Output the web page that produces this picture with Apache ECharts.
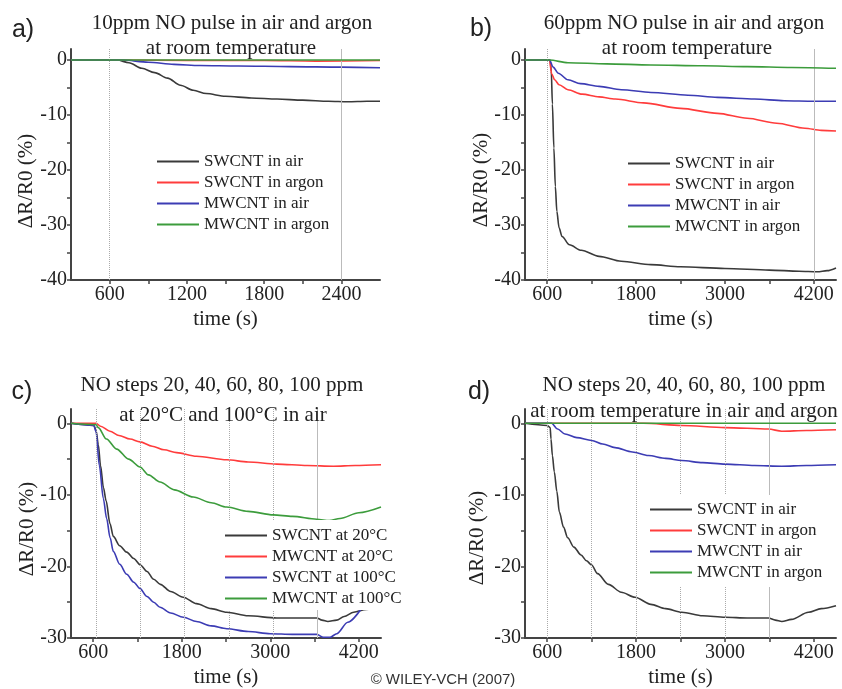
<!DOCTYPE html>
<html>
<head>
<meta charset="utf-8">
<script src="https://cdn.jsdelivr.net/npm/echarts@6/dist/echarts.min.js"></script>
<style>
html,body{margin:0;padding:0;background:#fff;}
#chart{width:842px;height:689px;}
</style>
</head>
<body>
<div id="chart"></div>
<script>
// ---------- DATA ----------
// Panel a: 10ppm NO pulse (time s, dR/R0 %)
const aSwAir = [[300,0],[660,0],[750,-0.5],[850,-1.5],[950,-2.3],[1050,-3.3],[1150,-4.6],[1250,-5.5],[1350,-6.1],[1500,-6.6],[1700,-6.9],[1900,-7.1],[2100,-7.3],[2300,-7.5],[2450,-7.6],[2600,-7.5],[2700,-7.5]];
const aSwArgon = [[300,0],[700,0],[1200,-0.1],[1800,-0.1],[2200,-0.2],[2700,-0.1]];
const aMwAir = [[300,0],[700,0],[900,-0.4],[1100,-0.8],[1300,-1.0],[1600,-1.1],[2000,-1.2],[2400,-1.3],[2700,-1.4]];
const aMwArgon = [[300,0],[1000,0],[2000,0],[2700,0]];
// Panel b: 60ppm NO pulse
const bSwAir = [[300,0],[640,0],[655,-2],[670,-8],[690,-16],[710,-23],[730,-27.5],[760,-30.5],[800,-32.1],[900,-33.6],[1060,-34.6],[1300,-35.7],[1600,-36.6],[2000,-37.2],[2400,-37.6],[3000,-37.9],[3600,-38.2],[4000,-38.4],[4250,-38.5],[4380,-38.3],[4500,-37.8]];
const bSwArgon = [[300,0],[630,0],[660,-2.5],[700,-3.6],[760,-4.5],[880,-5.4],[1070,-6.2],[1300,-6.7],[1520,-7.1],[1900,-7.8],[2400,-8.8],[2900,-9.7],[3300,-10.6],[3700,-11.5],[4080,-12.4],[4300,-12.8],[4500,-12.9]];
const bMwAir = [[300,0],[630,0],[680,-1.3],[750,-2.4],[880,-3.6],[1050,-4.3],[1300,-4.8],[1600,-5.4],[2000,-5.9],[2500,-6.4],[2900,-6.8],[3400,-7.1],[3800,-7.4],[4200,-7.5],[4500,-7.5]];
const bMwArgon = [[300,0],[630,0],[880,-0.5],[1400,-0.7],[2000,-0.9],[2700,-1.05],[3300,-1.2],[3900,-1.35],[4500,-1.5]];
// Panel c: NO steps at 20C and 100C in air
const cSw20 = [[300,0],[610,-0.3],[640,-1],[670,-3],[700,-5.9],[740,-9],[775,-10.8],[828,-14],[873,-15.8],[960,-17.1],[1055,-18],[1150,-18.9],[1240,-19.8],[1330,-20.7],[1420,-21.8],[1510,-22.5],[1650,-23.5],[1820,-24.3],[2000,-25.2],[2200,-25.9],[2410,-26.4],[2700,-26.9],[3087,-27.2],[3400,-27.2],[3630,-27.2],[3700,-27.5],[3780,-27.7],[3900,-27.5],[4000,-27],[4130,-26.4],[4300,-26],[4500,-25.6]];
const cMw20 = [[300,0],[640,0],[700,-0.4],[828,-1.1],[950,-1.7],[1100,-2.2],[1235,-2.6],[1400,-3.2],[1560,-3.7],[1732,-4.1],[2000,-4.6],[2410,-5.1],[2700,-5.4],[3087,-5.7],[3500,-5.9],[3855,-6.0],[4150,-5.9],[4500,-5.8]];
const cSw100 = [[300,0],[610,-0.3],[640,-1.2],[684,-5.9],[738,-10.5],[783,-13.3],[830,-16],[873,-17.9],[960,-19.7],[1055,-21.1],[1150,-22.2],[1235,-23.1],[1330,-24.2],[1420,-25],[1506,-25.7],[1650,-26.5],[1822,-27.1],[2000,-27.7],[2200,-28.3],[2410,-28.7],[2700,-29.1],[3000,-29.4],[3300,-29.5],[3630,-29.5],[3720,-29.9],[3810,-29.9],[3900,-29.4],[4050,-27.8],[4260,-25.5]];
const cMw100 = [[300,0],[640,-0.2],[670,-0.6],[780,-2.2],[919,-3.6],[1080,-5.0],[1235,-6.1],[1350,-7.2],[1506,-8.2],[1700,-9.3],[1957,-10.3],[2200,-11.1],[2410,-11.7],[2700,-12.3],[3041,-12.8],[3300,-13.0],[3629,-13.4],[3800,-13.6],[3945,-13.3],[4200,-12.5],[4500,-11.7]];
// Panel d: NO steps at room temperature in air and argon
const dSwAir = [[300,0],[600,-0.3],[640,-0.6],[651,-2.2],[670,-4.5],[696,-6.8],[730,-9.5],[764,-12.4],[820,-14.5],[877,-16],[960,-17.3],[1057,-18.4],[1130,-19.2],[1200,-19.8],[1280,-21],[1426,-22.5],[1600,-23.6],[1786,-24.3],[2000,-25.3],[2200,-25.9],[2417,-26.4],[2700,-26.9],[3003,-27.1],[3300,-27.2],[3588,-27.2],[3680,-27.5],[3768,-27.7],[3900,-27.4],[4128,-26.4],[4300,-25.9],[4500,-25.5]];
const dSwArgon = [[300,0],[1900,0],[2417,-0.3],[3003,-0.6],[3588,-0.8],[3768,-1.1],[4100,-1.0],[4500,-0.9]];
const dMwAir = [[300,0],[660,0],[740,-0.8],[840,-1.5],[1000,-2.0],[1201,-2.4],[1350,-2.9],[1516,-3.4],[1750,-4.0],[1966,-4.5],[2200,-4.9],[2417,-5.2],[2700,-5.5],[3003,-5.7],[3400,-5.9],[3768,-6.0],[4100,-5.9],[4500,-5.8]];
const dMwArgon = [[300,0],[1500,0],[3000,0],[4500,0]];

// Names, ticks, marker lines
const namesAB = ['SWCNT in air','SWCNT in argon','MWCNT in air','MWCNT in argon'];
const namesC = ['SWCNT at 20°C','MWCNT at 20°C','SWCNT at 100°C','MWCNT at 100°C'];
const xLabelsA = [600,1200,1800,2400];
const xTicksA = [600,900,1200,1500,1800,2100,2400];
const xLabelsB = [600,1800,3000,4200];
const xTicksB = [600,1200,1800,2400,3000,3600,4200];
const yLabels40 = [0,-10,-20,-30,-40];
const yTicks40 = [0,-5,-10,-15,-20,-25,-30,-35,-40];
const yLabels30 = [0,-10,-20,-30];
const yTicks30 = [0,-5,-10,-15,-20,-25,-30];
const dottedA = [600], solidA = [2400];
const dottedB = [600], solidB = [4200];
const dottedC = [640,1240,1840,2440,3040], solidC = [3640];
const dottedD = [600,1200,1800,2400,3000], solidD = [3600];
const titles = [
  ['10ppm NO pulse in air and argon','at room temperature'],
  ['60ppm NO pulse in air and argon','at room temperature'],
  ['NO steps 20, 40, 60, 80, 100 ppm','at 20°C and 100°C in air'],
  ['NO steps 20, 40, 60, 80, 100 ppm','at room temperature in air and argon']
];

// ---------- STYLE ----------
const COLORS = ['#3a3a3a','#ff3c3c','#3c3cb4','#3c9c3c'];
const SERIF = '"Liberation Serif", "Times New Roman", serif';
const SANS = '"Liberation Sans", Arial, sans-serif';
const grids = [
  {left:71, top:49, width:309, height:231},
  {left:525, top:49, width:311, height:231},
  {left:71, top:409, width:310, height:232},
  {left:525, top:409, width:311, height:232}
];
const panelX = [[300,2700,xLabelsA,xTicksA],[300,4500,xLabelsB,xTicksB],[300,4500,xLabelsB,xTicksB],[300,4500,xLabelsB,xTicksB]];
const panelY = [[-40,2,yLabels40,yTicks40],[-40,2,yLabels40,yTicks40],[-30,2,yLabels30,yTicks30],[-30,2,yLabels30,yTicks30]];
const panelData = [
  [aSwAir,aSwArgon,aMwAir,aMwArgon],
  [bSwAir,bSwArgon,bMwAir,bMwArgon],
  [cSw20,cMw20,cSw100,cMw100],
  [dSwAir,dSwArgon,dMwAir,dMwArgon]
];
const panelNames = [namesAB,namesAB,namesC,namesAB];
const panelLines = [[dottedA,solidA],[dottedB,solidB],[dottedC,solidC],[dottedD,solidD]];
const legendPos = [
  {left:153,top:147,padding:[4,4,4,4]},
  {left:624,top:149,padding:[4,4,4,4]},
  {left:221,top:520,padding:[5,4,1,4]},
  {left:646,top:495,padding:[4,4,4,4]}
];
const titlePos = [[[232,23],[231,48]],[[684,23],[687,48]],[[222,385],[223,415]],[[684,385],[684,411]]];
const letterPos = [['a)',23,30],['b)',481,29],['c)',22,392],['d)',479,392]];
const yNamePos = [[26,181],[481,180],[27,529],[477,538]];

const axisLineStyle = {color:'#444', width:2};
const xAxes = [], yAxes = [], series = [], legends = [], graphics = [];
for (let p = 0; p < 4; p++) {
  const [xmin,xmax,xl,xt] = panelX[p];
  const [ymin,ymax,yl,yt] = panelY[p];
  xAxes.push({
    type:'value', gridIndex:p, min:xmin, max:xmax,
    name:'time (s)', nameLocation:'middle', nameGap:29,
    nameTextStyle:{fontFamily:SERIF, fontSize:21, color:'#222'},
    axisLine:{show:true, onZero:false, lineStyle:axisLineStyle},
    axisTick:{show:true, length:4, customValues:xt, lineStyle:{color:'#444', width:1.5}},
    axisLabel:{customValues:xl, formatter:v => String(v), fontFamily:SERIF, fontSize:20, color:'#222', margin:5},
    splitLine:{show:false}
  });
  yAxes.push({
    type:'value', gridIndex:p, min:ymin, max:ymax,
    axisLine:{show:true, onZero:false, lineStyle:axisLineStyle},
    axisTick:{show:true, length:4, customValues:yt, lineStyle:{color:'#444', width:1.5}},
    axisLabel:{customValues:yl, formatter:v => String(v), fontFamily:SERIF, fontSize:20, color:'#222', margin:4},
    splitLine:{show:false}
  });
  const [dotted, solid] = panelLines[p];
  const ml = [];
  dotted.forEach(v => ml.push({xAxis:v, lineStyle:{type:'dotted', color:'#aaa', width:1}}));
  solid.forEach(v => ml.push({xAxis:v, lineStyle:{type:'solid', color:'#bbb', width:1}}));
  series.push({
    type:'line', xAxisIndex:p, yAxisIndex:p, name:'_markers', data:[], silent:true,
    markLine:{symbol:['none','none'], silent:true, label:{show:false}, data:ml}
  });
  for (let s = 0; s < 4; s++) {
    series.push({
      type:'line', xAxisIndex:p, yAxisIndex:p, name:panelNames[p][s],
      data:panelData[p][s], symbol:'none', showSymbol:false,
      smooth:0.3, smoothMonotone:'x',
      lineStyle:{color:COLORS[s], width:1.6}, itemStyle:{color:COLORS[s]},
      z:2+s
    });
  }
  legends.push({
    orient:'vertical', left:legendPos[p].left, top:legendPos[p].top,
    data:panelNames[p], icon:'rect', itemWidth:42, itemHeight:2, itemGap:0,
    backgroundColor:'#fff', padding:legendPos[p].padding, selectedMode:false,
    textStyle:{fontFamily:SERIF, fontSize:17, color:'#222', lineHeight:21}, z:10
  });
  titlePos[p].forEach((pos, i) => {
    graphics.push({type:'text', x:pos[0], y:pos[1], z:20,
      style:{text:titles[p][i], font:'21px '+SERIF, fill:'#222', align:'center', verticalAlign:'middle'}});
  });
  graphics.push({type:'text', x:letterPos[p][1], y:letterPos[p][2], z:20,
    style:{text:letterPos[p][0], font:'25px '+SANS, fill:'#222', align:'center', verticalAlign:'middle'}});
  graphics.push({type:'text', x:yNamePos[p][0], y:yNamePos[p][1], rotation:Math.PI/2, z:20,
    style:{text:'ΔR/R0 (%)', font:'21px '+SERIF, fill:'#222', align:'center', verticalAlign:'middle'}});
}
graphics.push({type:'text', x:443, y:680, z:20,
  style:{text:'© WILEY-VCH (2007)', font:'15px '+SANS, fill:'#333', align:'center', verticalAlign:'middle'}});

const chart = echarts.init(document.getElementById('chart'));
chart.setOption({
  animation:false,
  backgroundColor:'#fff',
  grid:grids.map(g => Object.assign({containLabel:false}, g)),
  xAxis:xAxes, yAxis:yAxes, legend:legends, series:series, graphic:graphics
});
</script>
</body>
</html>
